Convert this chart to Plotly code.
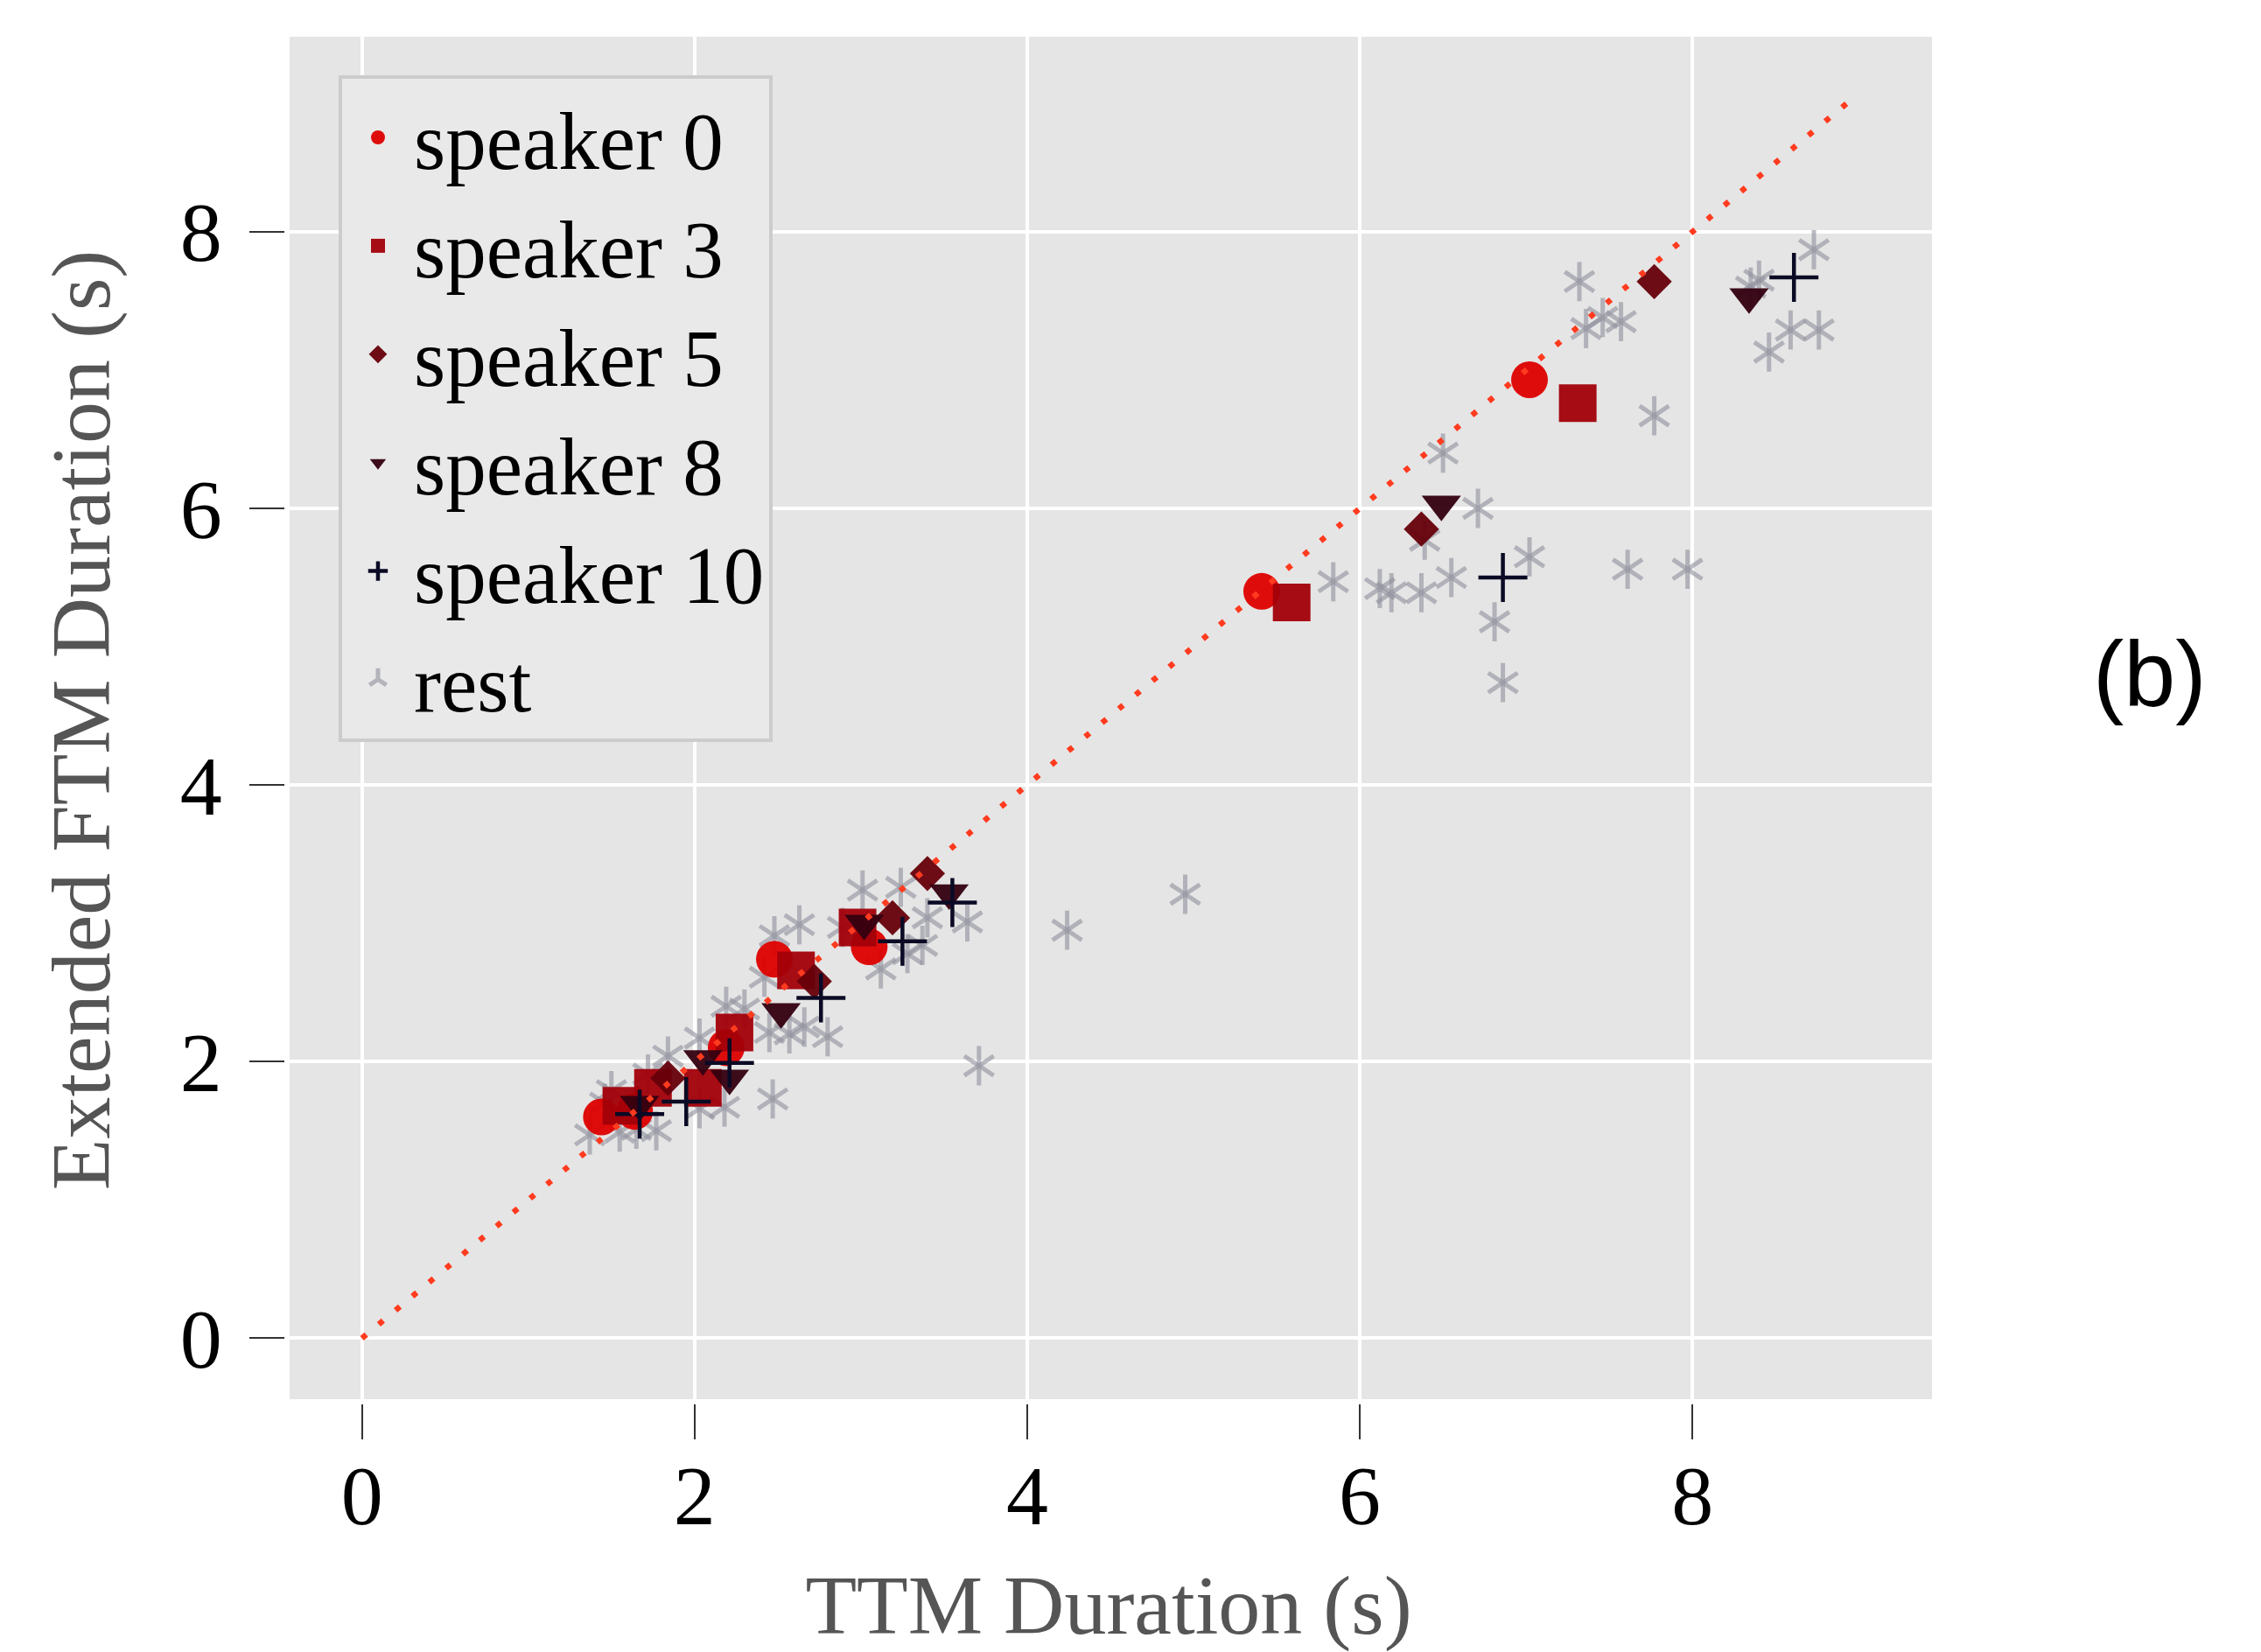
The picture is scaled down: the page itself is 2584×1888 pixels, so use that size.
import plotly.graph_objects as go

# ---------------- data ----------------
s0_x = [1.44, 1.64, 2.19, 2.48, 3.05, 5.41, 7.02]
s0_y = [1.60, 1.64, 2.10, 2.74, 2.83, 5.40, 6.93]

s3_x = [1.56, 1.75, 2.05, 2.24, 2.61, 2.98, 5.59, 7.31]
s3_y = [1.68, 1.81, 1.81, 2.21, 2.66, 2.97, 5.32, 6.76]

s5_x = [1.84, 2.72, 3.19, 3.40, 6.37, 7.77]
s5_y = [1.88, 2.58, 3.04, 3.36, 5.85, 7.64]

s8_x = [1.67, 2.05, 2.21, 2.52, 3.02, 3.53, 6.49, 8.34]
s8_y = [1.69, 2.02, 1.88, 2.36, 3.00, 3.22, 6.03, 7.53]

s10_x = [1.67, 1.95, 2.21, 2.76, 3.25, 3.55, 6.86, 8.61]
s10_y = [1.62, 1.71, 1.99, 2.46, 2.87, 3.15, 5.50, 7.67]

rest_x = [1.37, 1.50, 1.46, 1.55, 1.65, 1.77, 1.72, 1.84, 2.03, 2.03, 2.18,
          2.19, 2.30, 2.42, 2.45, 2.47, 2.48, 2.57, 2.63, 2.66, 2.80, 2.89,
          3.01, 3.12, 3.24, 3.28, 3.37, 3.40, 3.64, 3.71, 4.24, 4.95,
          5.84, 6.12, 6.19, 6.37, 6.39, 6.50, 6.55, 6.71, 6.81, 6.86, 7.02,
          7.32, 7.36, 7.46, 7.57, 7.61, 7.77, 7.97, 8.35, 8.40, 8.46, 8.59,
          8.73, 8.76]
rest_y = [1.47, 1.79, 1.70, 1.49, 1.51, 1.50, 1.91, 2.04, 2.17, 1.66, 1.67,
          2.40, 2.38, 2.61, 2.21, 1.73, 2.91, 2.20, 2.99, 2.25, 2.18, 2.97,
          3.24, 2.67, 3.26, 2.78, 2.84, 3.04, 3.01, 1.97, 2.95, 3.21,
          5.47, 5.42, 5.39, 5.39, 5.77, 6.40, 5.50, 6.00, 5.18, 4.74, 5.65,
          7.64, 7.30, 7.38, 7.35, 5.56, 6.67, 5.56, 7.60, 7.65, 7.13, 7.29,
          7.87, 7.29]

diag_x = [0, 9]
diag_y = [0, 9]

x_ticks = [0, 2, 4, 6, 8]
y_ticks = [0, 2, 4, 6, 8]

# ---------------- styling ----------------
SERIF = "Liberation Serif"
BG = "#e5e5e5"
REST_C = "rgba(145,145,158,0.62)"

fig = go.Figure()

# rest (6-armed asterisk built from two open "y" symbols)
fig.add_trace(go.Scatter(
    x=rest_x, y=rest_y, mode="markers", name="rest", legendgroup="rest",
    legendrank=6,
    marker=dict(symbol="y-up-open", size=28, color=REST_C,
                line=dict(width=5, color=REST_C)),
))
fig.add_trace(go.Scatter(
    x=rest_x, y=rest_y, mode="markers", name="rest", legendgroup="rest",
    showlegend=False,
    marker=dict(symbol="y-down-open", size=28, color=REST_C,
                line=dict(width=5, color=REST_C)),
))

fig.add_trace(go.Scatter(
    x=s0_x, y=s0_y, mode="markers", name="speaker 0", legendrank=1,
    marker=dict(symbol="circle", size=42, color="rgb(222,0,0)", opacity=0.95,
                line=dict(width=0)),
))
fig.add_trace(go.Scatter(
    x=s3_x, y=s3_y, mode="markers", name="speaker 3", legendrank=2,
    marker=dict(symbol="square", size=43, color="rgb(162,0,8)", opacity=0.95,
                line=dict(width=0)),
))
fig.add_trace(go.Scatter(
    x=s5_x, y=s5_y, mode="markers", name="speaker 5", legendrank=3,
    marker=dict(symbol="diamond", size=31, color="rgb(102,0,10)", opacity=0.95,
                line=dict(width=0)),
))
fig.add_trace(go.Scatter(
    x=s8_x, y=s8_y, mode="markers", name="speaker 8", legendrank=4,
    marker=dict(symbol="triangle-down", size=39, color="rgb(52,0,16)",
                opacity=0.95, line=dict(width=0)),
))
fig.add_trace(go.Scatter(
    x=s10_x, y=s10_y, mode="markers", name="speaker 10", legendrank=5,
    marker=dict(symbol="cross-thin-open", size=40, color="#0a0a25",
                line=dict(width=4.5, color="#0a0a25")),
))

# identity line
fig.add_trace(go.Scatter(
    x=diag_x, y=diag_y, mode="lines", showlegend=False, hoverinfo="skip",
    line=dict(color="#ff3b1f", width=6.5, dash="6.5px,18.5px"),
))

# gray panel (slightly inset from the axes so ticks sit off the panel)
fig.add_shape(type="rect", xref="x", yref="y", x0=-0.435, x1=9.44,
              y0=-0.44, y1=9.41, fillcolor=BG, line=dict(width=0),
              layer="below")

axis_common = dict(
    automargin=False,
    showgrid=True, gridcolor="white", gridwidth=3.5,
    zeroline=False, showline=False,
    ticks="outside", ticklen=40, tickwidth=2, tickcolor="#333333",
    tickfont=dict(family=SERIF, size=96, color="black"),
    title_font=dict(family=SERIF, size=96, color="#555555"),
)

fig.update_xaxes(range=[-0.461, 9.44], tickvals=x_ticks,
                 ticktext=[str(v) for v in x_ticks],
                 title_text="TTM Duration (s)", title_standoff=76,
                 ticklabelstandoff=-18, **axis_common)
fig.update_yaxes(range=[-0.472, 9.41], tickvals=y_ticks,
                 ticktext=[str(v) for v in y_ticks],
                 title_text="Extended FTM Duration (s)", title_standoff=48,
                 ticklabelstandoff=12, **axis_common)

fig.add_annotation(text="(b)", xref="paper", yref="paper",
                   x=1.1323, y=0.5340, xanchor="center", yanchor="middle",
                   showarrow=False,
                   font=dict(family="Liberation Sans", size=106, color="black"))

# figure sits 8px inside the page (default body margin)
fig.update_layout(
    width=2576, height=1880,
    margin=dict(l=318, r=376, t=34, b=284, autoexpand=False),
    paper_bgcolor="white", plot_bgcolor="white",
    showlegend=True,
    legend=dict(
        x=0.0324, y=0.9718, xanchor="left", yanchor="top",
        bgcolor="#e9e9e9", bordercolor="#cccccc", borderwidth=4,
        font=dict(family=SERIF, size=93, color="black"),
        itemwidth=72, traceorder="normal",
    ),
)

fig.write_html("out.html")
